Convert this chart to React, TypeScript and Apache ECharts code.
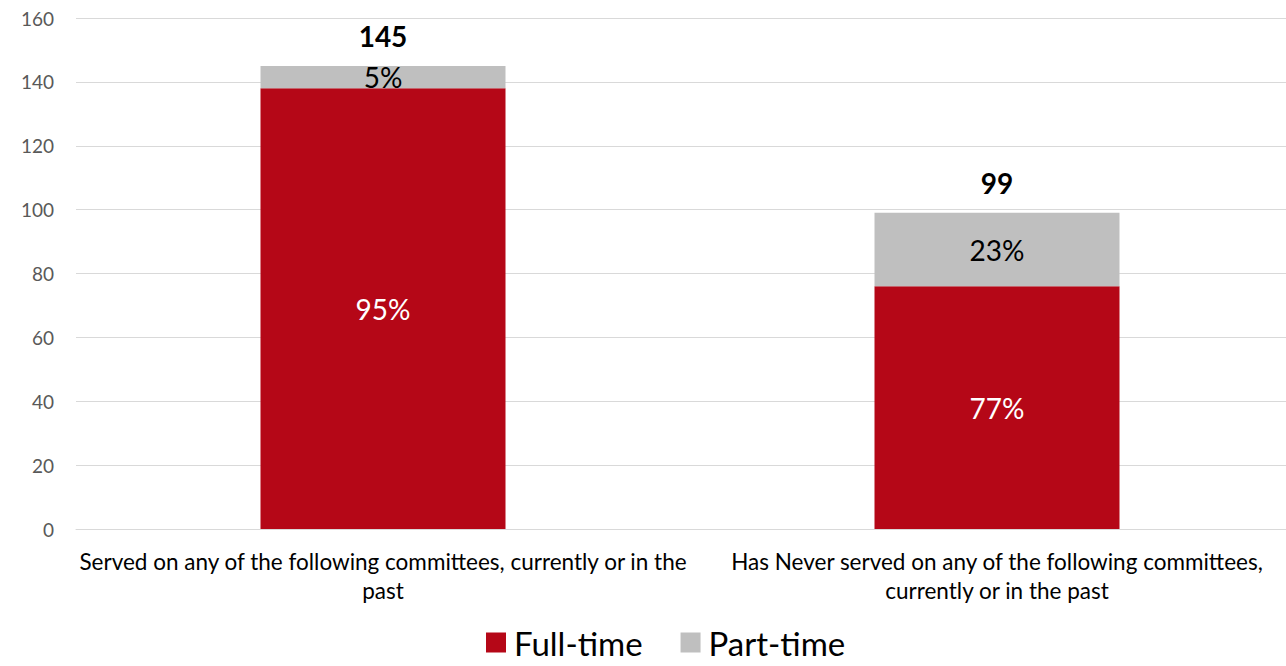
import React, { useEffect, useRef } from "react";
import * as echarts from "echarts";

const categories = [
  "Served on any of the following committees, currently or in the\npast",
  "Has Never served on any of the following committees,\ncurrently or in the past",
];
const fullTime = [138, 76];
const partTime = [7, 23];
const fullPct = ["95%", "77%"];
const partPct = ["5%", "23%"];
const totals = [145, 99];
const yTicks = { min: 0, max: 160, interval: 20 };

const FONT = "Lato, 'Open Sans', sans-serif";

export default function App() {
  const ref = useRef<HTMLDivElement>(null);
  useEffect(() => {
    document.body.style.margin = "0";
    const chart = echarts.init(ref.current!, null, { renderer: "svg" });
    chart.setOption({
      animation: false,
      textStyle: { fontFamily: FONT },
      grid: {
        left: 76,
        width: 1228,
        top: 18,
        height: 511,
        containLabel: false,
        outerBoundsMode: "none",
      },
      legend: {
        data: ["Full-time", "Part-time"],
        top: 626,
        left: 481,
        padding: [0, 5, 0, 5],
        icon: "rect",
        itemWidth: 20,
        itemHeight: 20,
        itemGap: 38,
        textStyle: { fontSize: 33, lineHeight: 32, color: "#000", fontFamily: FONT, padding: [0, 0, 0, 3] },
      },
      xAxis: {
        type: "category",
        data: categories,
        axisLine: { lineStyle: { color: "#d9d9d9", width: 1 } },
        axisTick: { show: false },
        axisLabel: {
          color: "#000",
          fontSize: 22.5,
          lineHeight: 29,
          margin: 18,
          interval: 0,
          fontFamily: FONT,
        },
      },
      yAxis: {
        type: "value",
        min: yTicks.min,
        max: yTicks.max,
        interval: yTicks.interval,
        axisLine: { show: false },
        axisTick: { show: false },
        splitLine: { lineStyle: { color: "#d9d9d9", width: 1 } },
        axisLabel: { color: "#595959", fontSize: 19, margin: 22, fontFamily: FONT },
      },
      series: [
        {
          name: "Full-time",
          type: "bar",
          stack: "s",
          barWidth: 245,
          data: fullTime,
          itemStyle: { color: "#B50717" },
          label: {
            show: true,
            position: "inside",
            color: "#fff",
            fontSize: 28,
            fontFamily: FONT,
            formatter: (p: any) => fullPct[p.dataIndex],
          },
        },
        {
          name: "Part-time",
          type: "bar",
          stack: "s",
          data: partTime,
          itemStyle: { color: "#BFBFBF" },
          label: {
            show: true,
            position: "inside",
            color: "#000",
            fontSize: 28,
            fontFamily: FONT,
            formatter: (p: any) => partPct[p.dataIndex],
          },
        },
        {
          name: "Total",
          type: "bar",
          stack: "s",
          data: totals.map(() => 0),
          itemStyle: { color: "transparent" },
          label: {
            show: true,
            position: "top",
            distance: 16,
            color: "#000",
            fontSize: 28,
            fontWeight: "bold",
            fontFamily: FONT,
            formatter: (p: any) => String(totals[p.dataIndex]),
          },
        },
      ],
    });
    return () => chart.dispose();
  }, []);
  return <div ref={ref} style={{ width: 1286, height: 666 }} />;
}
